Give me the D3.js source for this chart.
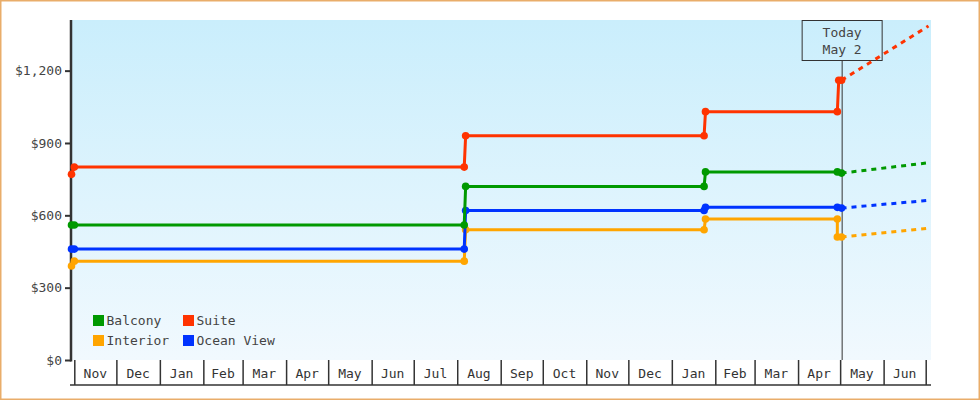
<!DOCTYPE html>
<html><head><meta charset="utf-8">
<script src="https://cdn.jsdelivr.net/npm/d3@7"></script>
<style>
body{margin:0;background:#fff}
svg{display:block;font-family:"DejaVu Sans Mono",monospace;font-size:13px}
</style>
</head><body>
<svg id="chart" width="980" height="400"></svg>
<script>
// price history per cabin type, [date, price]
var interior=[['2017-10-30',390],['2017-11-01',410],['2018-08-06',410],['2018-08-07',540],['2019-01-24',540],['2019-01-25',585],['2019-04-29',585],['2019-04-29',510],['2019-05-02',510]];
var oceanView=[['2017-10-30',460],['2017-11-01',460],['2018-08-06',460],['2018-08-07',620],['2019-01-24',620],['2019-01-25',633],['2019-04-29',633],['2019-05-02',630]];
var balcony=[['2017-10-30',560],['2017-11-01',560],['2018-08-06',560],['2018-08-07',720],['2019-01-24',720],['2019-01-25',780],['2019-04-29',780],['2019-05-02',775]];
var suite=[['2017-10-30',770],['2017-11-01',800],['2018-08-06',800],['2018-08-07',930],['2019-01-24',930],['2019-01-25',1030],['2019-04-29',1030],['2019-04-30',1160],['2019-05-02',1160]];
// projected prices at the end of the range
var forecastDate='2019-07-03';
var forecastValues=[546,662,818,1385];
var seriesNames=['Interior','Ocean View','Balcony','Suite'];
var seriesColors=['#ffa500','#0033ff','#009900','#ff3300'];
var legendOrder=['Balcony','Suite','Interior','Ocean View'];
var yTicks=[0,300,600,900,1200];
var today='2019-05-02', todayLabel=['Today','May 2'];
var monthStart='2017-11-01', monthEnd='2019-07-01';

var parse=d3.timeParse('%Y-%m-%d');
var svg=d3.select('#chart');
var L=71,R=931,T=20,B=360;

var x=d3.scaleTime().domain([parse(monthStart),parse(monthEnd)]).range([74.3,925.7]);
var y=d3.scaleLinear().domain([0,1410]).range([B,T]);

var defs=svg.append('defs');
var grad=defs.append('linearGradient').attr('id','bg')
	.attr('gradientUnits','userSpaceOnUse').attr('x1',0).attr('y1',T).attr('x2',0).attr('y2',B);
grad.append('stop').attr('offset',0).attr('stop-color','#caeefc');
grad.append('stop').attr('offset',1).attr('stop-color','#f1f9fe');

svg.append('rect').attr('x',0.75).attr('y',0.75).attr('width',978.5).attr('height',398.5)
	.attr('fill','#fff').attr('stroke','#e9ad6a').attr('stroke-width',1.5);
svg.append('rect').attr('x',L).attr('y',T).attr('width',R-L).attr('height',B-T).attr('fill','url(#bg)');

// y axis
var ya=svg.append('g').attr('transform','translate('+L+',0)')
	.call(d3.axisLeft(y).tickValues(yTicks).tickFormat(d3.format('$,')).tickSize(6).tickPadding(3));
ya.select('.domain').remove();
ya.selectAll('line').attr('stroke','#333').attr('stroke-width',2);
ya.selectAll('text').attr('fill','#444').style('font-family','"DejaVu Sans Mono",monospace').style('font-size','13px');
svg.append('line').attr('x1',L).attr('x2',L).attr('y1',T).attr('y2',B+1.5)
	.attr('stroke','#333').attr('stroke-width',2.5);

// month boxes
var bounds=d3.timeMonth.range(parse(monthStart),d3.timeDay.offset(parse(monthEnd),1));
var xa=svg.append('g').attr('transform','translate(0,'+B+')')
	.call(d3.axisBottom(x).tickValues(bounds).tickSize(25).tickFormat(''));
xa.select('.domain').remove();
xa.selectAll('line').attr('stroke','#333').attr('stroke-width',1.5);
svg.append('line').attr('x1',L-1).attr('x2',R).attr('y1',385).attr('y2',385)
	.attr('stroke','#333').attr('stroke-width',1.5);
svg.append('g').selectAll('text').data(bounds.slice(0,-1)).join('text')
	.attr('x',function(d){return (x(d)+x(d3.timeMonth.offset(d,1)))/2;})
	.attr('y',373).attr('dy','0.35em').attr('text-anchor','middle').attr('fill','#333')
	.text(d3.timeFormat('%b'));

// today marker
var tx=x(parse(today))+0.6;
svg.append('line').attr('x1',tx).attr('x2',tx).attr('y1',60.5).attr('y2',B)
	.attr('stroke','#333').attr('stroke-width',1);
svg.append('rect').attr('x',tx-40).attr('y',20.5).attr('width',80).attr('height',40)
	.attr('fill','url(#bg)').attr('stroke','#333').attr('stroke-width',1);
svg.append('g').selectAll('text').data(todayLabel).join('text')
	.attr('x',tx).attr('y',function(d,i){return 32+i*17.5;}).attr('dy','0.35em')
	.attr('text-anchor','middle').attr('fill','#444').text(function(d){return d;});

// series
var line=d3.line().x(function(d){return x(parse(d[0]));}).y(function(d){return y(d[1]);});
var all=[interior,oceanView,balcony,suite];
all.forEach(function(s,i){
	var g=svg.append('g');
	var last=s[s.length-1];
	g.append('path').attr('d',line([last,[forecastDate,forecastValues[i]]]))
		.attr('fill','none').attr('stroke',seriesColors[i]).attr('stroke-width',3)
		.attr('stroke-dasharray','5,5');
	g.append('path').attr('d',line(s)).attr('fill','none')
		.attr('stroke',seriesColors[i]).attr('stroke-width',3);
	g.selectAll('circle').data(s).join('circle')
		.attr('cx',function(d){return x(parse(d[0]));}).attr('cy',function(d){return y(d[1]);})
		.attr('r',3.8).attr('fill',seriesColors[i]);
});

// legend
var lg=svg.append('g').selectAll('g').data(legendOrder).join('g')
	.attr('transform',function(d,i){return 'translate('+(93+(i%2)*90)+','+(315+Math.floor(i/2)*20)+')';});
lg.append('rect').attr('width',11).attr('height',11)
	.attr('fill',function(d){return seriesColors[seriesNames.indexOf(d)];});
lg.append('text').attr('x',13.5).attr('y',5.7).attr('dy','0.35em').attr('fill','#444')
	.text(function(d){return d;});
</script>
</body></html>
